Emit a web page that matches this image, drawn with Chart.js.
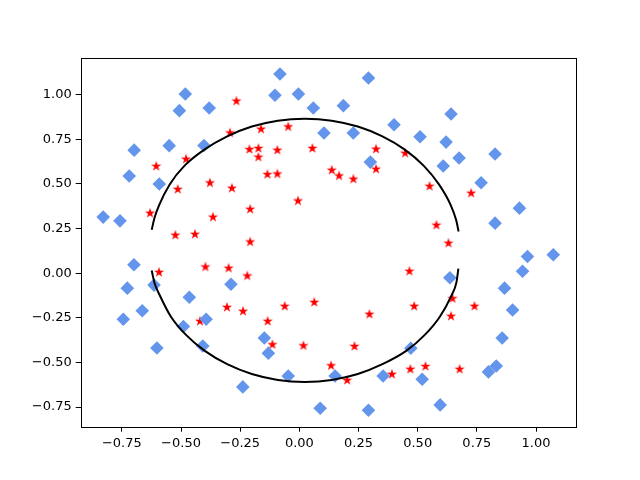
<!DOCTYPE html>
<html>
<head>
<meta charset="utf-8">
<script src="https://cdn.jsdelivr.net/npm/chart.js@4.4.1/dist/chart.umd.min.js"></script>
<style>
  html, body { margin: 0; padding: 0; background: #fff; }
  #chart { display: block; }
</style>
</head>
<body>
<canvas id="chart" width="640" height="480"></canvas>
<script>
// Class 1 points (blue diamonds)
const blueX = [-0.082, -0.482, -0.103, -0.004, -0.507, -0.381, 0.059, 0.104, -0.698, -0.550, -0.403, -0.719, -0.592, -0.829, -0.758,
               0.292, 0.186, 0.641, 0.400, 0.228, 0.510, 0.620, 0.827, 0.300, 0.675, 0.608, 0.768, 0.930, 0.827,
               -0.699, -0.727, -0.614, -0.289, -0.465, -0.664, -0.744, -0.394, -0.490, -0.148, -0.602, -0.408, -0.131, -0.047, -0.239, 0.088,
               0.964, 1.073, 0.943, 0.636, 0.867, 0.901, 0.857, 0.471, 0.832, 0.799, 0.151, 0.354, 0.519, 0.595, 0.292];
const blueY = [1.115, 1.003, 0.996, 1.003, 0.910, 0.925, 0.925, 0.785, 0.689, 0.714, 0.715, 0.544, 0.499, 0.314, 0.293,
               1.093, 0.938, 0.891, 0.831, 0.785, 0.764, 0.734, 0.667, 0.622, 0.645, 0.600, 0.506, 0.364, 0.280,
               0.047, -0.084, -0.067, -0.062, -0.135, -0.211, -0.258, -0.258, -0.299, -0.363, -0.419, -0.408, -0.448, -0.576, -0.637, -0.757,
               0.093, 0.103, 0.011, -0.026, -0.084, -0.206, -0.363, -0.421, -0.520, -0.553, -0.576, -0.576, -0.594, -0.738, -0.768];

// Class 0 points (red stars)
const redX = [-0.266, -0.293, -0.162, -0.047, -0.211, -0.173, -0.093, 0.055, -0.173, -0.605, -0.479, -0.135, -0.093, -0.378, -0.514,
              -0.285, -0.006, -0.208, -0.631, -0.365, -0.524, -0.441, -0.208,
              0.324, 0.447, 0.137, 0.324, 0.168, 0.228, 0.550, 0.726, 0.579, 0.630,
              -0.593, -0.397, -0.299, -0.220, -0.306, -0.238, -0.062, 0.063, -0.420, -0.134, -0.114, 0.017,
              0.465, 0.647, 0.485, 0.740, 0.296, 0.641, 0.233, 0.134, 0.202, 0.391, 0.469, 0.533, 0.677];
const redY = [0.966, 0.788, 0.809, 0.822, 0.695, 0.701, 0.691, 0.701, 0.652, 0.601, 0.641, 0.555, 0.558, 0.508, 0.472,
              0.478, 0.407, 0.360, 0.338, 0.316, 0.215, 0.220, 0.177,
              0.697, 0.674, 0.579, 0.585, 0.547, 0.529, 0.489, 0.450, 0.271, 0.170,
              0.007, 0.037, 0.030, -0.013, -0.189, -0.211, -0.183, -0.161, -0.267, -0.267, -0.398, -0.404,
              0.013, -0.140, -0.183, -0.183, -0.228, -0.239, -0.408, -0.516, -0.598, -0.564, -0.536, -0.520, -0.536];

// Decision boundary
const upperX = [-0.624, -0.612, -0.593, -0.548, -0.485, -0.400, -0.305, -0.201, -0.091, 0.023, 0.137, 0.247, 0.351, 0.444, 0.525, 0.590, 0.640, 0.662, 0.673];
const upperY = [0.243, 0.310, 0.380, 0.497, 0.602, 0.693, 0.766, 0.821, 0.854, 0.865, 0.854, 0.821, 0.766, 0.693, 0.602, 0.497, 0.380, 0.300, 0.233];
const lowerX = [-0.624, -0.612, -0.590, -0.544, -0.479, -0.398, -0.305, -0.201, -0.091, 0.023, 0.137, 0.247, 0.351, 0.450, 0.530, 0.595, 0.643, 0.664, 0.672];
const lowerY = [0.015, -0.055, -0.124, -0.241, -0.346, -0.437, -0.510, -0.565, -0.598, -0.609, -0.598, -0.565, -0.510, -0.437, -0.346, -0.241, -0.124, -0.050, 0.025];

const xTicks = [-0.75, -0.5, -0.25, 0, 0.25, 0.5, 0.75, 1.0];
const yTicks = [-0.75, -0.5, -0.25, 0, 0.25, 0.5, 0.75, 1.0];

function pts(xs, ys) {
  return xs.map((x, i) => ({ x: x, y: ys[i] }));
}

// filled five-point star like matplotlib's '*' marker
function makeStar(size, color) {
  const c = document.createElement('canvas');
  c.width = size;
  c.height = size;
  const g = c.getContext('2d');
  const cx = size / 2, cy = size / 2 + 0.4;
  const R = size / 2 - 0.6, r = R * 0.382;
  g.beginPath();
  for (let i = 0; i < 10; i++) {
    const a = -Math.PI / 2 + i * Math.PI / 5;
    const rad = i % 2 === 0 ? R : r;
    const px = cx + rad * Math.cos(a), py = cy + rad * Math.sin(a);
    if (i === 0) g.moveTo(px, py); else g.lineTo(px, py);
  }
  g.closePath();
  g.fillStyle = color;
  g.fill();
  return c;
}

const fmt = v => v.toFixed(2).replace('-', '\u2212');

const framePlugin = {
  id: 'frame',
  afterDraw(chart) {
    const a = chart.chartArea, ctx = chart.ctx;
    ctx.save();
    ctx.strokeStyle = '#000';
    ctx.lineWidth = 1;
    ctx.strokeRect(Math.round(a.left) + 0.5, Math.round(a.top) + 0.5,
                   Math.round(a.right - a.left), Math.round(a.bottom - a.top));
    ctx.restore();
  }
};

const tickFont = { family: 'DejaVu Sans', size: 13 };

new Chart(document.getElementById('chart'), {
  type: 'scatter',
  data: {
    datasets: [
      {
        label: 'boundary upper',
        data: pts(upperX, upperY),
        showLine: true,
        cubicInterpolationMode: 'monotone',
        borderColor: '#000',
        borderWidth: 2,
        pointRadius: 0,
        fill: false
      },
      {
        label: 'boundary lower',
        data: pts(lowerX, lowerY),
        showLine: true,
        cubicInterpolationMode: 'monotone',
        borderColor: '#000',
        borderWidth: 2,
        pointRadius: 0,
        fill: false
      },
      {
        label: 'y = 1',
        data: pts(blueX, blueY),
        pointStyle: 'rectRot',
        pointRadius: 6.8,
        backgroundColor: '#6495ED',
        borderWidth: 0
      },
      {
        label: 'y = 0',
        data: pts(redX, redY),
        pointStyle: makeStar(12, '#ff0000'),
        pointRadius: 6,
        backgroundColor: '#ff0000',
        borderWidth: 0
      }
    ]
  },
  options: {
    responsive: false,
    animation: false,
    devicePixelRatio: 1,
    layout: { padding: { top: 58, right: 64, bottom: 0, left: 0 } },
    plugins: {
      legend: { display: false },
      tooltip: { enabled: false }
    },
    scales: {
      x: {
        type: 'linear',
        min: -0.924,
        max: 1.169,
        afterBuildTicks: s => { s.ticks = xTicks.map(v => ({ value: v })); },
        afterFit: s => { s.height = 53.3; },
        grid: { display: true, drawOnChartArea: false, drawTicks: true, tickLength: 5, color: '#000' },
        border: { display: false },
        ticks: { color: '#000', font: tickFont, padding: 4, maxRotation: 0, callback: v => fmt(v) }
      },
      y: {
        type: 'linear',
        min: -0.86,
        max: 1.205,
        afterBuildTicks: s => { s.ticks = yTicks.map(v => ({ value: v })); },
        afterFit: s => { s.width = 80.7; },
        grid: { display: true, drawOnChartArea: false, drawTicks: true, tickLength: 5, color: '#000' },
        border: { display: false },
        ticks: { color: '#000', font: tickFont, padding: 4, callback: v => fmt(v) }
      }
    }
  },
  plugins: [framePlugin]
});
</script>
</body>
</html>
